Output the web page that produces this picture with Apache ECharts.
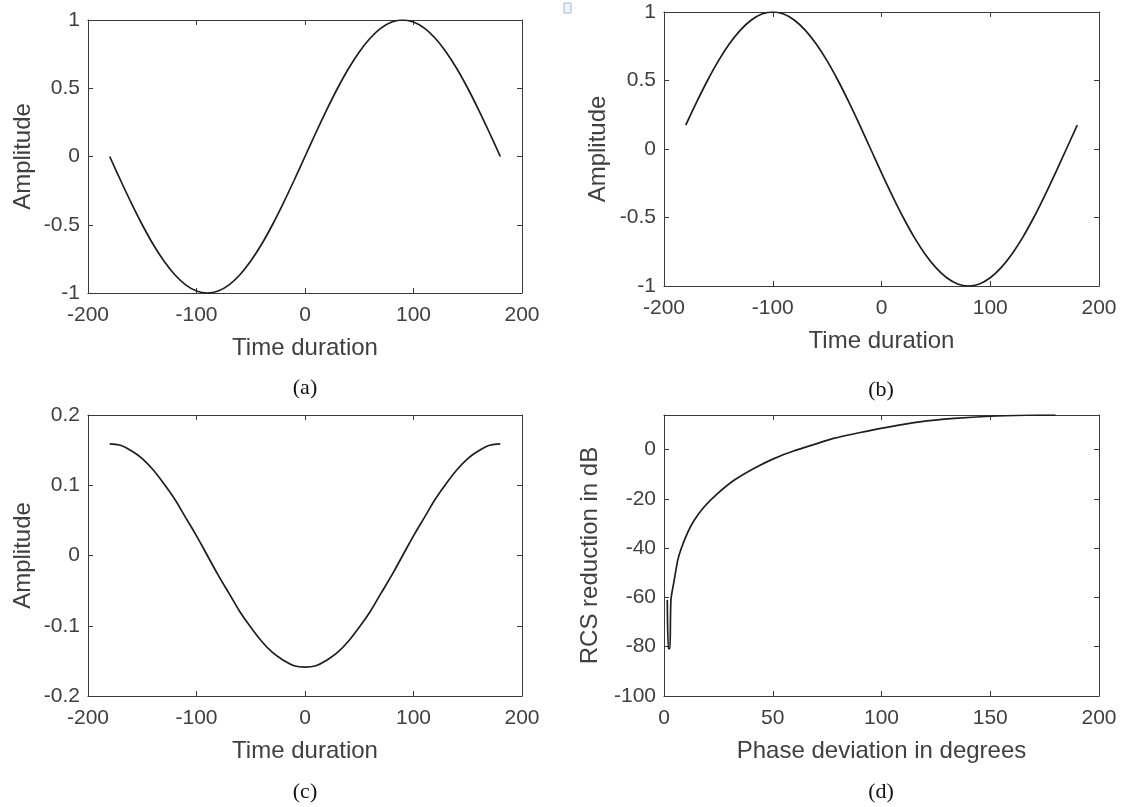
<!DOCTYPE html>
<html>
<head>
<meta charset="utf-8">
<script src="https://cdn.jsdelivr.net/npm/echarts@6/dist/echarts.min.js"></script>
<style>
html,body{margin:0;padding:0;background:#fff;}
#chart{width:1122px;height:807px;}
</style>
</head>
<body>
<div id="chart"></div>
<script>
// ---- data ----
const timeDeg = [-180,-170,-160,-150,-140,-130,-120,-110,-100,-90,-80,-70,-60,-50,-40,-30,-20,-10,0,10,20,30,40,50,60,70,80,90,100,110,120,130,140,150,160,170,180];
const ampA = [0,-0.174,-0.342,-0.5,-0.643,-0.766,-0.866,-0.94,-0.985,-1,-0.985,-0.94,-0.866,-0.766,-0.643,-0.5,-0.342,-0.174,0,0.174,0.342,0.5,0.643,0.766,0.866,0.94,0.985,1,0.985,0.94,0.866,0.766,0.643,0.5,0.342,0.174,0];
const ampB = [0.174,0.342,0.5,0.643,0.766,0.866,0.94,0.985,1,0.985,0.94,0.866,0.766,0.643,0.5,0.342,0.174,0,-0.174,-0.342,-0.5,-0.643,-0.766,-0.866,-0.94,-0.985,-1,-0.985,-0.94,-0.866,-0.766,-0.643,-0.5,-0.342,-0.174,0,0.174];
const ampC = [0.159,0.157,0.149,0.138,0.122,0.102,0.08,0.054,0.028,0,-0.028,-0.054,-0.08,-0.102,-0.122,-0.138,-0.149,-0.157,-0.159,-0.157,-0.149,-0.138,-0.122,-0.102,-0.08,-0.054,-0.028,0,0.028,0.054,0.08,0.102,0.122,0.138,0.149,0.157,0.159];
const rcsPhase = [1.5,2,2.7,3.2,4.7,6.3,7.8,10.8,13.9,18.4,24.6,32.2,41.3,50.5,59.6,68.8,77.9,90.2,102.4,117.6,133.5,150,166.6,180];
const rcsDb = [-61,-80.8,-80.8,-61,-53,-45,-40.5,-33.8,-28.7,-23.3,-17.9,-12.5,-7.7,-3.7,-0.6,2.0,4.5,6.9,9.0,11.2,12.6,13.5,13.9,14.0];
const captions = ['(a)','(b)','(c)','(d)'];
const xNames = ['Time duration','Time duration','Time duration','Phase deviation in degrees'];
const yNames = ['Amplitude','Amplitude','Amplitude','RCS reduction in dB'];

// ---- layout / style ----
const AX = '#3a3a3a';
const TXT = '#404040';
const FONT = '"Liberation Sans", Arial, sans-serif';
const grids = [
  {left:88, top:20, width:434, height:273},
  {left:664, top:12, width:435, height:274},
  {left:88, top:415, width:434, height:281},
  {left:664, top:415, width:435, height:281}
];
const xRanges = [[-200,200,100],[-200,200,100],[-200,200,100],[0,200,50]];
const yRanges = [[-1,1,0.5],[-1,1,0.5],[-0.2,0.2,0.1],[-100,14,20]];
const yNameGaps = [53,54,53,62];

const xAxes = [], yAxes = [];
grids.forEach((g,i)=>{
  const base = {
    gridIndex:i, type:'value',
    axisLine:{show:true, onZero:false, lineStyle:{color:AX, width:1}},
    axisTick:{show:true, inside:true, length:5, lineStyle:{color:AX, width:1}},
    splitLine:{show:false}
  };
  xAxes.push(Object.assign({}, base, {
    position:'bottom', min:xRanges[i][0], max:xRanges[i][1], interval:xRanges[i][2],
    name:xNames[i], nameLocation:'middle', nameGap:43,
    nameTextStyle:{fontSize:24, color:TXT, fontFamily:FONT},
    axisLabel:{margin:12, fontSize:21, color:TXT, fontFamily:FONT}
  }));
  xAxes.push(Object.assign({}, base, {
    position:'top', min:xRanges[i][0], max:xRanges[i][1], interval:xRanges[i][2],
    axisLabel:{show:false}
  }));
  yAxes.push(Object.assign({}, base, {
    position:'left', min:yRanges[i][0], max:yRanges[i][1], interval:yRanges[i][2],
    name:yNames[i], nameLocation:'middle', nameGap:yNameGaps[i],
    nameTextStyle:{fontSize:24, color:TXT, fontFamily:FONT},
    axisLabel:{margin:8, fontSize:21, color:TXT, fontFamily:FONT, showMaxLabel: i===3 ? false : true}
  }));
  yAxes.push(Object.assign({}, base, {
    position:'right', min:yRanges[i][0], max:yRanges[i][1], interval:yRanges[i][2],
    axisLabel:{show:false}
  }));
});

const lineStyle = {color:'#1e1e1e', width:1.7};
const mk = (idx, data, smooth) => ({
  type:'line', xAxisIndex:idx*2, yAxisIndex:idx*2, data:data,
  showSymbol:false, symbol:'none', smooth:smooth,
  lineStyle:lineStyle, silent:true, animation:false
});

const series = [
  mk(0, timeDeg.map((t,k)=>[t, ampA[k]]), 0.4),
  mk(1, timeDeg.map((t,k)=>[t, ampB[k]]), 0.4),
  mk(2, timeDeg.map((t,k)=>[t, ampC[k]]), 0.4),
  mk(3, rcsPhase.map((p,k)=>[p, rcsDb[k]]), 0.25)
];

const capPos = [[305,388],[881,390],[305,792],[881,792]];
const graphic = captions.map((c,i)=>({
  type:'text', x:capPos[i][0], y:capPos[i][1], silent:true,
  style:{text:c, fontSize:22, fontFamily:'"Liberation Serif", "Times New Roman", serif', fill:'#111', align:'center', verticalAlign:'middle'}
}));
graphic.push({type:'rect', shape:{x:564, y:3, width:7, height:10}, silent:true,
  style:{fill:'#eef4fa', stroke:'#9dbcd8', lineWidth:1}});

const chart = echarts.init(document.getElementById('chart'), null, {renderer:'canvas'});
chart.setOption({
  backgroundColor:'#ffffff',
  animation:false,
  grid:grids.map(g=>Object.assign({containLabel:false}, g)),
  xAxis:xAxes,
  yAxis:yAxes,
  series:series,
  graphic:graphic
});
</script>
</body>
</html>
